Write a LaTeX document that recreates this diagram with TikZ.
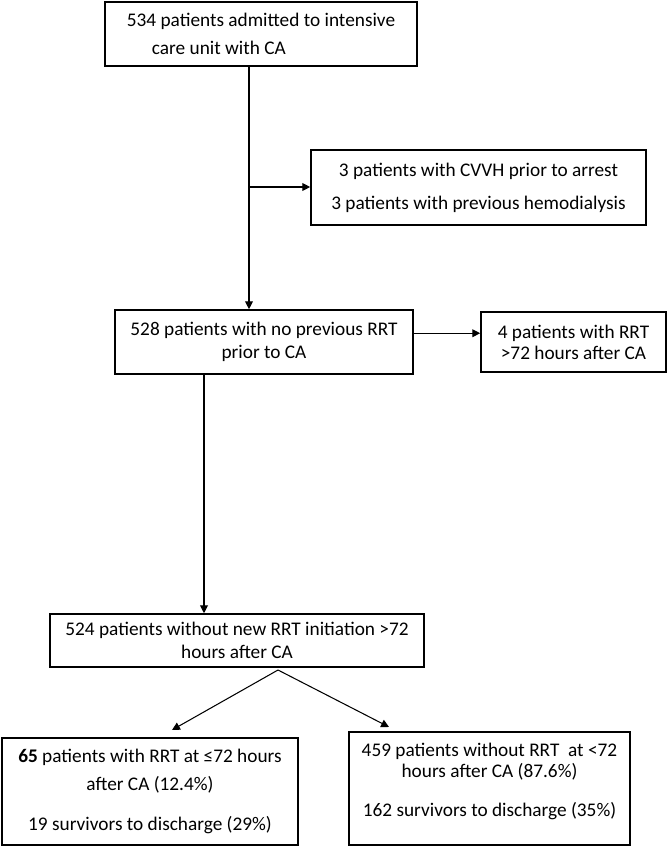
\documentclass[tikz,border=0pt]{standalone}
\usepackage{fontspec}
\setmainfont{Carlito}
\usetikzlibrary{positioning, arrows.meta, calc}
\tikzset{>={Triangle[length=4.5pt,width=4.5pt]}}

\begin{document}
\begin{tikzpicture}[
  x=0.57pt, y=-0.57pt,
  font=\fontsize{11}{13.5}\selectfont,
  box/.style={draw, line width=0.9pt, align=center, inner sep=0pt},
  link/.style={->, line width=0.6pt}
]
  \useasboundingbox (0,0) rectangle (668,847);

  % Boxes
  \node[box, align=left, minimum width=178pt, minimum height=36.5pt] (admit) at (261,34)
    {534 patients admitted to intensive\\[2.5pt]\hspace*{1.3em}care unit with CA};
  \node[box, minimum width=191pt, minimum height=42.8pt] (excl) at (478.5,187.5)
    {3 patients with CVVH prior to arrest\\[5.3pt]3 patients with previous hemodialysis};
  \node[box, minimum width=170pt, minimum height=36.5pt] (noRRT) at (264,342)
    {528 patients with no previous RRT\\prior to CA};
  \node[box, minimum width=105.5pt, minimum height=34.2pt] (late) at (573.5,342)
    {4 patients with RRT\\[-1.5pt]>72 hours after CA};
  \node[box, minimum width=213pt, minimum height=30.2pt] (cohort) at (237,640.5)
    {524 patients without new RRT initiation >72\\hours after CA};
  \node[box, minimum width=168.7pt, minimum height=61pt] (early) at (150,791.5)
    {\textbf{65} patients with RRT at ≤72 hours\\[2.5pt]after CA (12.4\%)\\[9.3pt]19 survivors to discharge (29\%)};
  \node[box, minimum width=160.2pt, minimum height=64.4pt, text depth=10pt] (none) at (489.5,788.5)
    {459 patients without RRT\ \ at <72\\[-1.5pt]hours after CA (87.6\%)\\[8.7pt]162 survivors to discharge (35\%)};

  % Branch points
  \coordinate (split) at (249,187);
  \coordinate (drop) at (204,500);
  \coordinate (fork) at (278,670);
  \coordinate (tipL) at (172,730);
  \coordinate (tipR) at (389,727);

  % Connectors
  \draw[link] (admit.south -| split) -- (noRRT.north -| split);
  \draw[link] (split) -- (split -| excl.west);
  \draw[link] ([yshift=5pt]noRRT.east) -- ([yshift=5pt]noRRT.east -| late.west);
  \draw[link] (noRRT.south -| drop) -- (cohort.north -| drop);
  \draw[link] (fork) -- (tipL);
  \draw[link] (fork) -- (tipR);
\end{tikzpicture}
\end{document}
